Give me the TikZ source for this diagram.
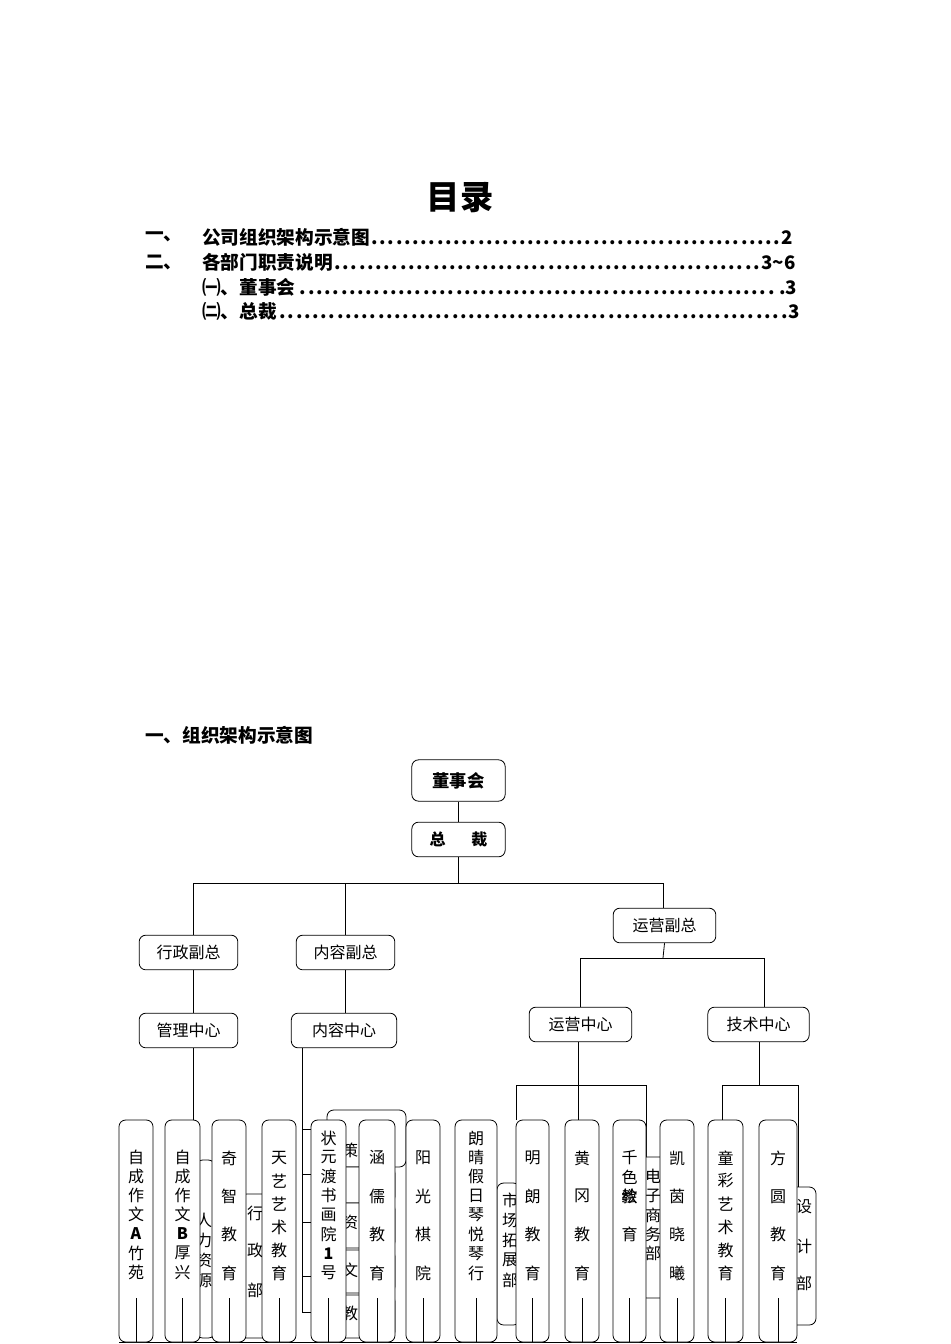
\documentclass[tikz,border=0pt]{standalone}
\usepackage{fontspec}
\setmainfont{Liberation Serif}
\newfontfamily\cjk{Noto Sans CJK SC}
\begin{document}
\begin{tikzpicture}[x=0.75pt,y=-0.75pt,
  box/.style={draw,rounded corners=5pt,line width=0.6pt,fill=white,inner sep=0pt,font=\cjk\fontsize{12}{14}\selectfont},
  hid/.style={draw,rounded corners=5pt,line width=0.6pt,fill=white},
  ln/.style={line width=0.6pt},
  vc/.style={font=\cjk\fontsize{12}{14}\selectfont,inner sep=0pt}]
\useasboundingbox (0,0) rectangle (950,1344);
\fill[white] (0,0) rectangle (950,1344);
% Title and TOC
\node[font=\cjk\bfseries\fontsize{25}{28}\selectfont] (title) at (460,198) {目录};
\tikzset{toc/.style={anchor=west,inner sep=0pt,font=\cjk\bfseries\fontsize{14}{16}\selectfont}}
\node[toc] (t1a) at (145,237) {一、};
\node[toc] (t1) at (202,237) {\makebox[443pt][l]{公司组织架构示意图\dotfill 2}};
\node[toc] (t2a) at (145,262) {二、};
\node[toc] (t2) at (202,262) {\makebox[445pt][l]{各部门职责说明\dotfill 3\textasciitilde 6}};
\node[toc] (t3) at (202,287) {\makebox[446pt][l]{㈠、董事会\dotfill .3}};
\node[toc] (t4) at (202,311) {\makebox[448pt][l]{㈡、总裁\dotfill .3}};
\node[toc] (h1) at (145,735) {一、组织架构示意图};
% top chart
\node[box,minimum width=70pt,minimum height=31pt,font=\cjk\bfseries\fontsize{13}{15}\selectfont] (dsh) at (458.5,780.5) {董事会};
\node[box,minimum width=70pt,minimum height=26pt,font=\cjk\bfseries\fontsize{12}{14}\selectfont] (zc) at (458.5,839.5) {总\hspace{1.6em}裁};
\draw[ln] (dsh.south) -- (zc.north);
\coordinate (j0) at (458.5,883);
\draw[ln] (zc.south) -- (j0);
\draw[ln] (193,935) -- (193,883) -- (663,883) -- (663,908);
\draw[ln] (345,883) -- (345,935);
\node[box,minimum width=74pt,minimum height=26pt] (xz) at (188.5,952.5) {行政副总};
\node[box,minimum width=74pt,minimum height=26pt] (nz) at (345.5,952.5) {内容副总};
\node[box,minimum width=77pt,minimum height=26pt] (yz) at (664.5,925.5) {运营副总};
\draw[ln] (yz.south) -- (663,958);
\draw[ln] (580,1007) -- (580,958) -- (764,958) -- (764,1007);
\draw[ln] (193,970) -- (193,1013);
\draw[ln] (345,970) -- (345,1013);
% lines behind the bottom row
\draw[ln] (193,1048) -- (193,1195);
\draw[ln] (302,1048) -- (302,1312) -- (327,1312);
\foreach \yy in {1129,1174,1222,1276} \draw[ln] (302,\yy) -- (327,\yy);
\draw[ln] (578,1042) -- (578,1185);
\draw[ln] (516,1120) -- (516,1085) -- (646,1085) -- (646,1157);
\draw[ln] (759,1042) -- (759,1085);
\draw[ln] (722,1120) -- (722,1085) -- (798,1085) -- (798,1187);
\node[box,minimum width=74pt,minimum height=26pt] (gl) at (188.5,1030.5) {管理中心};
\node[box,minimum width=79pt,minimum height=26pt] (nr) at (344,1030.5) {内容中心};
\node[box,minimum width=77pt,minimum height=26pt] (yy) at (580.5,1024.5) {运营中心};
\node[box,minimum width=76pt,minimum height=26pt] (js) at (758.5,1024.5) {技术中心};
\draw[ln] (578,1042) -- (578,1085);
\draw[ln] (759,1042) -- (759,1060);
% hidden boxes
\draw[hid] (130,1195) rectangle (150,1338);
\draw[hid] (196,1160) rectangle (215,1338);
\node[vc] at (204,1220) {人}; \node[vc] at (204,1240) {力};\node[vc] at (204,1260) {资};\node[vc] at (204,1280) {源};
\draw[hid] (240,1194) rectangle (270,1338);
\node[vc] at (255,1213) {行}; \node[vc] at (255,1250) {政}; \node[vc] at (255,1290) {部};
\draw[hid] (327,1110) rectangle (406,1167);
\draw[hid] (327,1167) rectangle (395,1203);
\draw[hid] (327,1203) rectangle (395,1248);
\draw[hid] (327,1250) rectangle (395,1293);
\draw[hid] (327,1295) rectangle (395,1338);
\node[vc] at (350,1150) {策}; \node[vc] at (350,1222) {资}; \node[vc] at (350,1270) {文}; \node[vc] at (350,1313) {教};
\draw[hid] (497,1183) rectangle (520,1325);
\node[vc] at (510,1200) {市};\node[vc] at (510,1220) {场};\node[vc] at (510,1240) {拓};\node[vc] at (510,1260) {展};\node[vc] at (510,1280) {部};
\draw[hid] (640,1157) rectangle (668,1298);
\node[vc] at (653,1176) {电};\node[vc] at (653,1196) {子};\node[vc] at (653,1215) {商};\node[vc] at (653,1234) {务};\node[vc] at (653,1253) {部};
\draw[hid] (790,1187) rectangle (816,1325);
\node[vc] at (804,1207) {设};\node[vc] at (804,1246) {计};\node[vc] at (804,1283) {部};
\draw[ln] (119,1342) -- (797,1342);
% front tall boxes
\newcommand\tall[6]{% name, x1, x2, ytop, step, chars
  \node[box,minimum width={(#3-#2)*0.75pt},minimum height={222*0.75pt}] (#1) at ({(#2+#3)/2},1231) {};
  \foreach \ch [count=\i] in {#6} \node[vc] at ({(#2+#3)/2},{#4+(\i-1)*#5}) {\ch};
  \draw[ln] ({(#2+#3)/2},1298) -- ({(#2+#3)/2},1342);}
\tall{b1}{119}{153}{1157}{19.2}{自,成,作,文,\textbf{A},竹,苑}
\tall{b2}{165}{200}{1157}{19.2}{自,成,作,文,\textbf{B},厚,兴}
\tall{b3}{212}{246}{1158}{38.3}{奇,智,教,育}
\tall{b4}{262}{296}{1158}{23}{天,艺,艺,术,教,育}
\tall{b5}{311}{346}{1138}{19.3}{状,元,渡,书,画,院,\textbf{1},号}
\tall{b6}{359}{395}{1158}{38.3}{涵,儒,教,育}
\tall{b7}{406}{440}{1158}{38.3}{阳,光,棋,院}
\tall{b8}{455}{497}{1138}{19.3}{朗,晴,假,日,琴,悦,琴,行}
\tall{b9}{516}{549}{1158}{38.3}{明,朗,教,育}
\tall{b10}{565}{599}{1158}{38.3}{黄,冈,教,育}
\tall{b11}{613}{646}{1158}{38.3}{千,教,育}
\node[vc] at (629.5,1177) {色}; \node[vc] at (629.5,1196) {绘};
\tall{b12}{660}{694}{1158}{38.3}{凯,茵,晓,曦}
\tall{b13}{708}{743}{1158}{23}{童,彩,艺,术,教,育}
\tall{b14}{759}{797}{1158}{38.3}{方,圆,教,育}
\end{tikzpicture}
\end{document}
